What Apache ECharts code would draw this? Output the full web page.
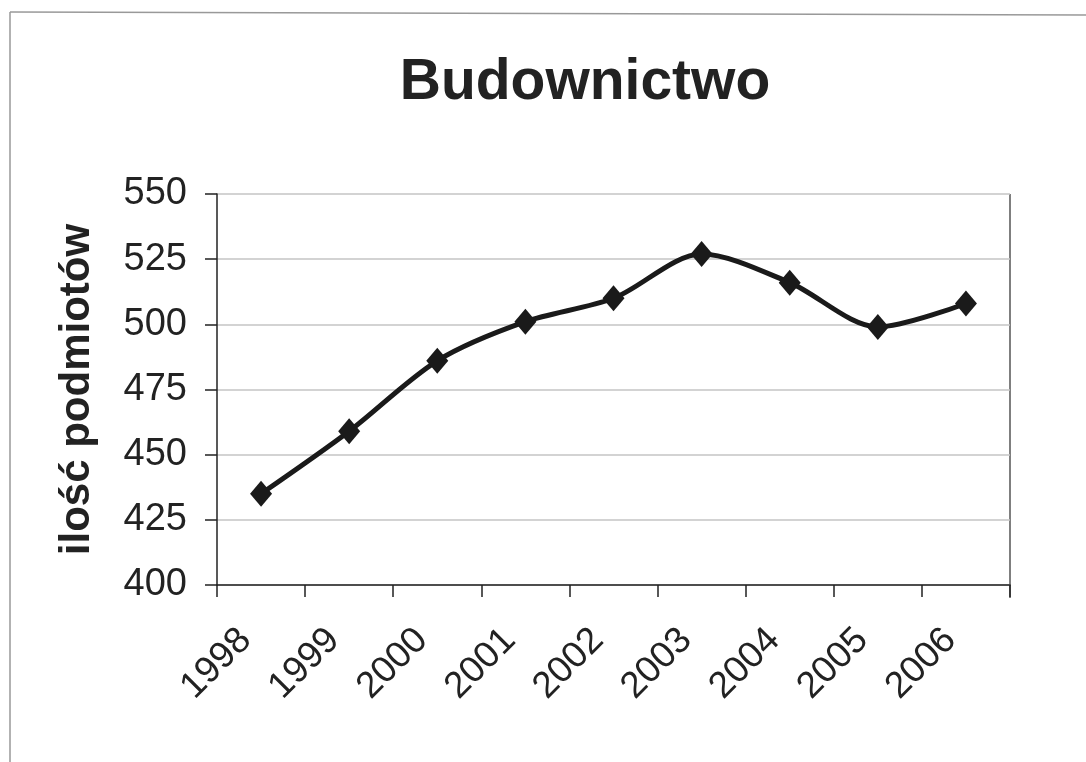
<!DOCTYPE html>
<html>
<head>
<meta charset="utf-8">
<script src="https://cdn.jsdelivr.net/npm/echarts@6/dist/echarts.min.js"></script>
<style>
html,body{margin:0;padding:0;background:#fff;}
#c{width:1086px;height:762px;}
</style>
</head>
<body>
<div id="c"></div>
<script>
var categories = ['1998','1999','2000','2001','2002','2003','2004','2005','2006'];
var values = [435, 459, 486, 501, 510, 527, 516, 499, 508];
var yTicks = {min: 400, max: 550, interval: 25};

var chart = echarts.init(document.getElementById('c'));
chart.setOption({
  backgroundColor: '#fff',
  animation: false,
  title: {
    text: 'Budownictwo',
    left: 580, top: 50, textAlign: 'center',
    textStyle: {fontFamily: 'Liberation Sans, Arial', fontWeight: 'bold', fontSize: 57, color: '#222'}
  },
  graphic: [
    {type: 'line', shape: {x1: 10, y1: 12, x2: 1086, y2: 15}, style: {stroke: '#999', lineWidth: 1.5}},
    {type: 'line', shape: {x1: 10, y1: 12, x2: 10, y2: 762}, style: {stroke: '#999', lineWidth: 1.5}},
    {type: 'line', shape: {x1: 1010, y1: 194, x2: 1010, y2: 598}, style: {stroke: '#555', lineWidth: 1.5}}
  ],
  grid: {left: 217, right: 76, top: 194, bottom: 177},
  xAxis: {
    type: 'category',
    data: categories,
    boundaryGap: true,
    axisLine: {lineStyle: {color: '#222', width: 1.5}},
    axisTick: {show: true, length: 12, lineStyle: {color: '#222', width: 1.5}},
    axisLabel: {rotate: 45, fontFamily: 'Liberation Sans, Arial', fontSize: 37, color: '#222', margin: 34, padding: [0, 22, 0, 0]}
  },
  yAxis: {
    type: 'value',
    min: yTicks.min, max: yTicks.max, interval: yTicks.interval,
    name: 'ilość podmiotów',
    nameLocation: 'middle',
    nameGap: 119,
    nameTextStyle: {fontFamily: 'Liberation Sans, Arial', fontWeight: 'bold', fontSize: 42, color: '#222'},
    axisLine: {show: true, lineStyle: {color: '#222', width: 1.5}},
    axisTick: {show: true, length: 12, lineStyle: {color: '#222', width: 1.5}},
    axisLabel: {fontFamily: 'Liberation Sans, Arial', fontSize: 38, color: '#222', margin: 30},
    splitLine: {show: true, lineStyle: {color: '#c4c4c4', width: 1.5}}
  },
  series: [{
    type: 'line',
    data: values,
    smooth: 0.3,
    symbol: 'diamond',
    symbolSize: [22, 26],
    lineStyle: {color: '#1a1a1a', width: 5},
    itemStyle: {color: '#1a1a1a'}
  }]
});
</script>
</body>
</html>
